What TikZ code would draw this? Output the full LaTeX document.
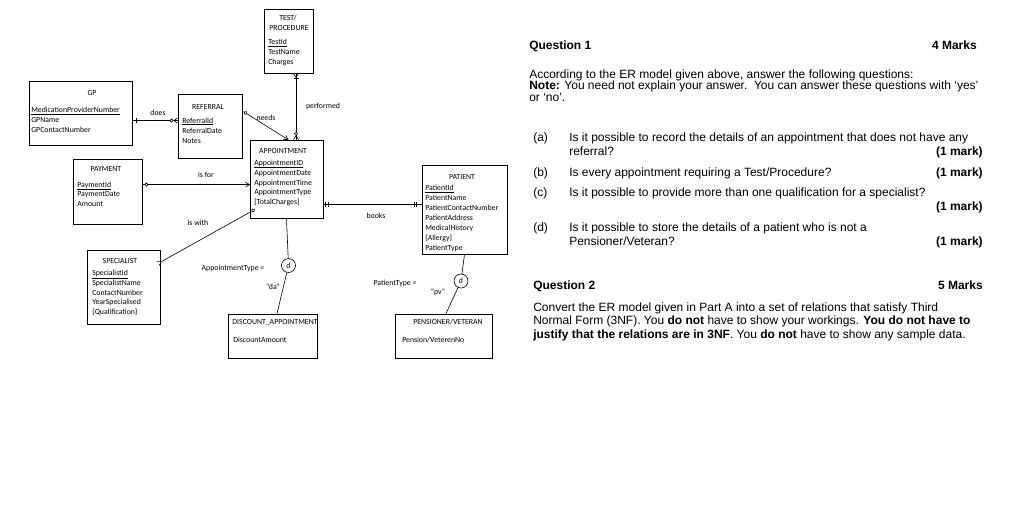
\documentclass[tikz,border=0pt]{standalone}
\usepackage{fontspec}
\setmainfont{Liberation Sans}
\newfontfamily\erfont{Carlito}
\usetikzlibrary{calc}
\begin{document}
\begin{tikzpicture}[x=1pt,y=-1pt,line width=0.6pt,
  ent/.style={draw,line width=0.8pt,inner sep=0pt},
  et/.style={font=\erfont\fontsize{7.8}{9}\selectfont,inner sep=0pt,anchor=base west},
  ett/.style={font=\erfont\fontsize{7.8}{9}\selectfont,inner sep=0pt,anchor=base},
  rlab/.style={font=\erfont\fontsize{7.8}{9}\selectfont,inner sep=0pt,anchor=base},
  dnode/.style={draw,circle,line width=0.6pt,minimum size=14pt,inner sep=0pt,font=\erfont\fontsize{7.8}{9}\selectfont},
  qt/.style={font=\fontsize{12}{14}\selectfont,inner sep=0pt,anchor=base west},
  qr/.style={font=\bfseries\fontsize{12}{14}\selectfont,inner sep=0pt,anchor=base east},
  barS/.pic={\draw (#1,-2.5) -- (#1,2.5);},
  barE/.pic={\draw (-#1,-2.5) -- (-#1,2.5);},
  circS/.pic={\draw[fill=white] (#1,0) circle (1.6);},
  circE/.pic={\draw[fill=white] (-#1,0) circle (1.6);},
  crowS/.pic={\draw (4,0) -- (0,2.5) (4,0) -- (0,-2.5);},
  crowE/.pic={\draw (-4,0) -- (0,2.5) (-4,0) -- (0,-2.5);},
  arrE/.pic={\draw (-4,-2.3) -- (0,0) -- (-4,2.3);}
]
\useasboundingbox[fill=white] (0,0) rectangle (1024,515);

% entity boxes
\node[ent,minimum width=49pt,minimum height=64pt] (test) at (288.5,41) {};
\node[ent,minimum width=103pt,minimum height=64pt] (gp) at (80.5,113) {};
\node[ent,minimum width=64pt,minimum height=64pt] (ref) at (210,126) {};
\node[ent,minimum width=73pt,minimum height=78pt] (app) at (286.5,179) {};
\node[ent,minimum width=69pt,minimum height=65pt] (pay) at (107.5,191.5) {};
\node[ent,minimum width=73pt,minimum height=74pt] (spec) at (123.5,287) {};
\node[ent,minimum width=85pt,minimum height=89pt] (pat) at (464.5,209.5) {};
\node[ent,minimum width=89pt,minimum height=44pt] (disc) at (272.5,336) {};
\node[ent,minimum width=97pt,minimum height=44pt] (pens) at (443.5,336) {};

% TEST/PROCEDURE
\node[ett] (t1) at (288,20.5) {TEST/};
\node[ett] (t2) at (289,30.5) {PROCEDURE};
\node[et] (t3) at (268,44.5) {\underline{TestId}};
\node[et] (t4) at (268,54.5) {TestName};
\node[et] (t5) at (268,64.5) {Charges};
% GP
\node[ett] (g1) at (92,95.5) {GP};
\node[et] (g2) at (31,112.5) {\underline{MedicationProviderNumber}};
\node[et] (g3) at (31,122.5) {GPName};
\node[et] (g4) at (31,132.5) {GPContactNumber};
% REFERRAL
\node[ett] (r1) at (208,109.5) {REFERRAL};
\node[et] (r2) at (182,123) {\underline{ReferralId}};
\node[et] (r3) at (182,133) {ReferralDate};
\node[et] (r4) at (182,143) {Notes};
% APPOINTMENT
\node[ett] (a1) at (283,153.5) {APPOINTMENT};
\node[et] (a2) at (254,165) {\underline{AppointmentID}};
\node[et] (a3) at (254,175) {AppointmentDate};
\node[et] (a4) at (254,185) {AppointmentTime};
\node[et] (a5) at (254,194.5) {AppointmentType};
\node[et] (a6) at (254,204.5) {[TotalCharges]};
% PAYMENT
\node[ett] (p1) at (106,171.5) {PAYMENT};
\node[et] (p2) at (77,187) {\underline{PaymentId}};
\node[et] (p3) at (77,196.5) {PaymentDate};
\node[et] (p4) at (77,206.5) {Amount};
% SPECIALIST
\node[ett] (s1) at (120,263.5) {SPECIALIST};
\node[et] (s2) at (92,275.5) {\underline{SpecialistId}};
\node[et] (s3) at (92,285.5) {SpecialistName};
\node[et] (s4) at (92,295.5) {ContactNumber};
\node[et] (s5) at (92,304.5) {YearSpecialised};
\node[et] (s6) at (92,314.5) {\{Qualification\}};
% PATIENT
\node[ett] (pa1) at (462,179.5) {PATIENT};
\node[et] (pa2) at (425,190.5) {\underline{PatientId}};
\node[et] (pa3) at (425,200.5) {PatientName};
\node[et] (pa4) at (425,210.5) {PatientContactNumber};
\node[et] (pa5) at (425,220.5) {PatientAddress};
\node[et] (pa6) at (425,230.5) {MedicalHistory};
\node[et] (pa7) at (425,240.5) {\{Allergy\}};
\node[et] (pa8) at (425,250.5) {PatientType};
% DISCOUNT_APPOINTMENT
\node[ett] (d1t) at (275,324.5) {DISCOUNT\_APPOINTMENT};
\node[et] (d2t) at (233,342.5) {DiscountAmount};
% PENSIONER/VETERAN
\node[ett] (v1) at (448,324.5) {PENSIONER/VETERAN};
\node[et] (v2) at (402,342.5) {Pension/VeterenNo};

% disjoint circles
\node[dnode] (dd1) at (288.5,265.5) {d};
\node[dnode] (dd2) at (461,281) {d};

% relationships
\draw ($(gp.north east)+(0,40)$) -- ($(ref.north west)+(0,27)$)
  pic[pos=0,sloped]{barS=4} pic[pos=1,sloped]{crowE} pic[pos=1,sloped]{circE=6};
\draw ($(ref.north east)+(1,18)$) -- ($(app.north)+(1.5,0)$)
  pic[pos=0,sloped]{circS=2.5} pic[pos=1,sloped]{arrE};
\draw ($(test.south)+(7.5,0)$) -- ($(app.north)+(9.5,0)$)
  pic[pos=0,sloped]{crowS} pic[pos=0,sloped]{barS=5} pic[pos=1,sloped]{crowE} pic[pos=1,sloped]{circE=6};
\draw ($(pay.north east)+(0,26)$) -- ($(app.north west)+(0,45)$)
  pic[pos=0,sloped]{circS=4} pic[pos=1,sloped]{arrE};
\draw ($(app.south west)+(0,-6)$) -- ($(spec.north east)+(1,12)$)
  pic[pos=0,sloped]{circS=4} pic[pos=1,sloped]{arrE};
\draw ($(app.north east)+(0,65)$) -- ($(pat.north west)+(0,40)$)
  pic[pos=0,sloped]{barS=2} pic[pos=0,sloped]{barS=5} pic[pos=1,sloped]{barE=5} pic[pos=1,sloped]{barE=7};
\draw (app.south) -- (dd1);
\draw (dd1) -- ($(disc.north)+(4.5,0)$);
\draw (pat.south) -- (dd2);
\draw (dd2) -- ($(pens.north)+(2.5,0)$);

% relationship labels
\node[rlab] (l1) at (158,115.5) {does};
\node[rlab] (l2) at (266,120.5) {needs};
\node[rlab] (l3) at (323,108.5) {performed};
\node[rlab] (l4) at (206,177.5) {is for};
\node[rlab] (l5) at (198,225.5) {is with};
\node[rlab] (l6) at (376,218.5) {books};
\node[rlab] (l7) at (233,270.5) {AppointmentType =};
\node[rlab] (l8) at (273,289.5) {“da”};
\node[rlab] (l9) at (395,285.5) {PatientType =};
\node[rlab] (l10) at (438,294.5) {“pv”};

% Questions text
\node[qt,font=\bfseries\fontsize{12}{14}\selectfont] (q1) at (529,49) {Question 1};
\node[qr] (q1m) at (977,49) {4 Marks};
\node[qt] (q1a) at (529,78) {According to the ER model given above, answer the following questions:};
\node[qt] (q1b) at (529,89.5) {\textbf{Note:} You need not explain your answer.\ \ You can answer these questions with ‘yes’};
\node[qt] (q1c) at (529,101) {or ‘no’.};
\node[qt] (qa) at (533,141) {(a)};
\node[qt] (qa1) at (569,141) {Is it possible to record the details of an appointment that does not have any};
\node[qt] (qa2) at (569,155) {referral?};
\node[qr] (qam) at (983,155) {(1 mark)};
\node[qt] (qb) at (533,176) {(b)};
\node[qt] (qb1) at (569,176) {Is every appointment requiring a Test/Procedure?};
\node[qr] (qbm) at (983,176) {(1 mark)};
\node[qt] (qc) at (533,196) {(c)};
\node[qt] (qc1) at (569,196) {Is it possible to provide more than one qualification for a specialist?};
\node[qr] (qcm) at (983,210) {(1 mark)};
\node[qt] (qd) at (533,231) {(d)};
\node[qt] (qd1) at (569,231) {Is it possible to store the details of a patient who is not a};
\node[qt] (qd2) at (569,245) {Pensioner/Veteran?};
\node[qr] (qdm) at (983,245) {(1 mark)};
\node[qt,font=\bfseries\fontsize{12}{14}\selectfont] (q2) at (533,289) {Question 2};
\node[qr] (q2m) at (983,289) {5 Marks};
\node[qt] (q2a) at (533,311) {Convert the ER model given in Part A into a set of relations that satisfy Third};
\node[qt] (q2b) at (533,324.5) {Normal Form (3NF). You \textbf{do not} have to show your workings. \textbf{You do not have to}};
\node[qt] (q2c) at (533,338) {\textbf{justify that the relations are in 3NF}. You \textbf{do not} have to show any sample data.};
\end{tikzpicture}
\end{document}
